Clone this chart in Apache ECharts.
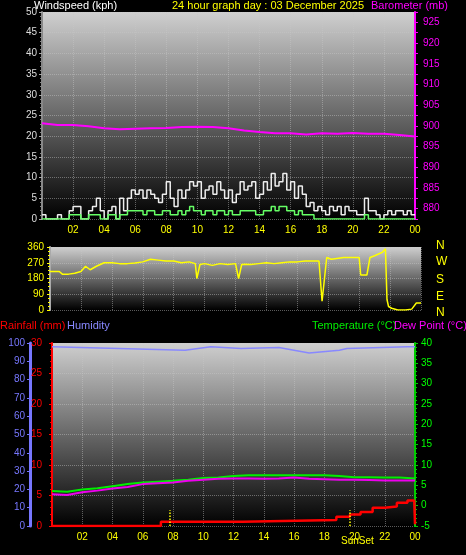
<!DOCTYPE html>
<html>
<head>
<meta charset="utf-8">
<script src="https://cdn.jsdelivr.net/npm/echarts@6/dist/echarts.min.js"></script>
<style>
  html, body { margin: 0; padding: 0; background: #000; }
  #main { width: 466px; height: 555px; }
</style>
</head>
<body>
<div id="main"></div>
<script>
// wind: quarter-hour samples 0..24 (97 values)
var windGust = [1,0,0,0,1,0,0,2,3,
  3,0,0,2,3,5,2,0,  2,3,0,5,2,5,7,6,  7,5,7,6,5,4,6,9,  5,3,7,5,7,9,8,9,
  5,7,8,6,9,7,5,7,  4,6,9,7,8,9,5,6,  9,7,11,8,9,11,7,9,  5,8,6,3,4,2,3,2,
  1,3,2,3,1,3,2,2,  1,1,5,2,2,1,0,1,  2,1,2,2,1,2,1,1];
var windAvg = [0,0,0,0,0,0,0,1,1,
  1,0,0,1,1,1,0,0,  1,1,0,1,1,2,2,2,  2,1,2,2,1,1,2,2,  1,1,2,1,2,3,2,2,
  1,2,2,1,2,2,1,2,  1,1,2,2,2,2,1,1,  2,2,3,2,3,3,2,2,  1,2,1,1,1,0,0,0,
  0,0,0,0,0,0,0,0,  0,0,1,0,0,0,0,0,  0,0,0,0,0,0,0,0];

var hours = [0,1,2,3,4,5,6,7,8,9,10,11,12,13,14,15,16,17,18,19,20,21,22,23,24];
var baro = [900.6,900.2,900.2,899.9,899.4,899.2,899.3,899.4,899.5,899.7,899.8,899.7,899.4,898.9,898.5,898.2,898.2,897.9,898.2,898.1,898.3,898.1,898.1,897.8,897.4];
var temp = [3.6,3.4,4.0,4.3,4.8,5.3,5.7,5.9,6.1,6.4,6.8,6.9,7.3,7.5,7.5,7.5,7.5,7.5,7.5,7.3,7.0,7.0,6.9,6.9,6.7];
var dew  = [2.8,2.6,3.3,3.7,4.2,4.6,5.3,5.5,5.7,6.1,6.4,6.6,6.7,6.7,6.6,6.7,6.9,6.6,6.5,6.4,6.4,6.3,6.2,6.2,6.2];

var dirTimes = [0,0.6,0.8,1.2,1.6,2,2.3,2.6,3,3.5,4,4.5,5,5.5,6,6.5,7,7.5,8,8.5,9,9.4,9.5,9.7,10,10.5,11,11.5,12,12.2,12.4,12.6,13,13.5,14,14.5,15,15.5,16,16.5,17,17.4,17.6,17.7,17.9,18.2,19,19.5,20,20.1,20.5,20.7,21,21.5,21.7,21.8,21.9,22.1,22.5,23,23.4,23.7,24];
var dirDeg   = [220,220,205,205,210,220,250,230,250,270,270,265,265,268,275,290,285,280,280,270,275,265,180,260,265,255,265,260,265,180,260,262,260,265,270,265,270,275,275,280,280,280,50,50,300,290,300,300,300,200,200,300,310,330,350,60,20,10,0,0,5,40,40];

var humTimes = [0,8.8,10.5,12.5,15,17,19,19.5,23.5,24];
var humidity = [98,96,98,97,97.5,94.5,96,97,98,98];

var rainTimes = [0,7.2,12.6,18.8,19.7,20.4,21.2,22,22.8,23.5,23.95,24];
var rain      = [0,0.7,1.0,1.5,1.9,2.3,3.0,3.2,3.8,4.2,4.2,0.3];

var sunTimes = [7.8, 19.7];

function pairs(xs, ys) { return xs.map(function (x, i) { return [x, ys[i]]; }); }
function quarterPairs(ys) { return ys.map(function (y, i) { return [i / 4, y]; }); }

var plotBg = { type: 'linear', x: 0, y: 0, x2: 0, y2: 1,
  colorStops: [{ offset: 0, color: '#cfcfcf' }, { offset: 1, color: '#000' }] };
var font = 'Liberation Sans, Arial, sans-serif';
var split = { show: true, lineStyle: { color: 'rgba(200,200,200,0.45)', type: 'dotted' } };

function hourAxis(gi, showLabels) {
  return {
    type: 'value', gridIndex: gi, min: 0, max: 24, interval: 2,
    axisLine: { show: false }, axisTick: { show: false },
    splitLine: split,
    axisLabel: { show: showLabels, color: '#ffff00', fontSize: 10, fontFamily: font, margin: 6,
      formatter: function (v) { if (v === 0) return ''; v = v % 24; return (v < 10 ? '0' : '') + v; } }
  };
}
function yAx(o) {
  var base = { type: 'value', axisLine: { show: true, lineStyle: { width: 2 } },
    axisTick: { show: true, length: 3 }, minorTick: { show: true, splitNumber: 5, length: 2 },
    splitLine: { show: false },
    axisLabel: { fontSize: 10, fontFamily: font } };
  return Object.assign(base, o);
}

var chart = echarts.init(document.getElementById('main'));
chart.setOption({
  backgroundColor: '#000',
  animation: false,
  grid: [
    { left: 42, top: 12, width: 373, height: 207, show: true, backgroundColor: plotBg, borderWidth: 0 },
    { left: 50, top: 247, width: 371, height: 63, show: true, backgroundColor: plotBg, borderWidth: 0 },
    { left: 52, top: 343, width: 363, height: 183, show: true, backgroundColor: plotBg, borderWidth: 0 }
  ],
  xAxis: [hourAxis(0, true), hourAxis(1, false), hourAxis(2, true)],
  yAxis: [
    yAx({ gridIndex: 0, min: 0, max: 50, interval: 5, splitLine: split,
      axisLine: { show: true, lineStyle: { color: '#888', width: 2 } },
      axisTick: { show: true, length: 3, lineStyle: { color: '#aaa' } },
      axisLabel: { color: '#ddd', fontSize: 10, fontFamily: font, margin: 5 } }),
    yAx({ gridIndex: 0, position: 'right', min: 877.5, max: 927.5, interval: 2.5,
      axisLine: { show: true, lineStyle: { color: '#ff00ff', width: 2 } },
      axisTick: { show: true, length: 3, lineStyle: { color: '#ff00ff' } },
      minorTick: { show: false },
      axisLabel: { color: '#ff00ff', fontSize: 10, fontFamily: font, margin: 8,
        formatter: function (v) { return (v % 5 === 0 && v >= 880) ? v : ''; } } }),
    yAx({ gridIndex: 1, min: 0, max: 360, interval: 90, splitLine: split,
      axisLine: { show: true, lineStyle: { color: '#aaa', width: 2 } },
      axisTick: { show: true, length: 3, lineStyle: { color: '#ffff00' } },
      minorTick: { show: true, splitNumber: 4, length: 2, lineStyle: { color: '#ffff00' } },
      axisLabel: { color: '#ffff00', fontSize: 10, fontFamily: font, margin: 6 } }),
    yAx({ gridIndex: 2, position: 'left', min: 0, max: 30, interval: 5, offset: 5, splitLine: split,
      axisLine: { show: true, lineStyle: { color: '#ff0000', width: 2 } },
      axisTick: { show: true, length: 3, lineStyle: { color: '#ff0000' } },
      minorTick: { show: true, splitNumber: 5, length: 2, lineStyle: { color: '#ff0000' } },
      axisLabel: { color: '#ff0000', fontSize: 10, fontFamily: font, margin: 5 } }),
    yAx({ gridIndex: 2, position: 'left', min: 0, max: 100, interval: 10, offset: 22,
      axisLine: { show: true, lineStyle: { color: '#7777ff', width: 3 } },
      axisTick: { show: true, length: 3, lineStyle: { color: '#7777ff' } },
      minorTick: { show: false },
      axisLabel: { color: '#7777ff', fontSize: 10, fontFamily: font, margin: 5 } }),
    yAx({ gridIndex: 2, position: 'right', min: -5, max: 40, interval: 5,
      axisLine: { show: true, lineStyle: { color: '#00cc00', width: 2 } },
      axisTick: { show: true, length: 3, lineStyle: { color: '#00cc00' } },
      minorTick: { show: true, splitNumber: 5, length: 2, lineStyle: { color: '#00cc00' } },
      axisLabel: { color: '#00ff00', fontSize: 10, fontFamily: font, margin: 6 } })
  ],
  series: [
    { type: 'line', xAxisIndex: 0, yAxisIndex: 0, step: 'end', symbol: 'none',
      data: quarterPairs(windGust), lineStyle: { color: '#eeeeee', width: 1.5 } },
    { type: 'line', xAxisIndex: 0, yAxisIndex: 0, step: 'end', symbol: 'none',
      data: quarterPairs(windAvg), lineStyle: { color: '#66ff66', width: 1.5 } },
    { type: 'line', xAxisIndex: 0, yAxisIndex: 1, symbol: 'none',
      data: pairs(hours, baro), lineStyle: { color: '#ff00ff', width: 2 } },
    { type: 'line', xAxisIndex: 1, yAxisIndex: 2, symbol: 'none',
      data: pairs(dirTimes, dirDeg), lineStyle: { color: '#ffff00', width: 1.5 } },
    { type: 'line', xAxisIndex: 2, yAxisIndex: 4, symbol: 'none',
      data: pairs(humTimes, humidity), lineStyle: { color: '#8888ff', width: 1.5 } },
    { type: 'line', xAxisIndex: 2, yAxisIndex: 5, symbol: 'none',
      data: pairs(hours, temp), lineStyle: { color: '#00ee00', width: 2 } },
    { type: 'line', xAxisIndex: 2, yAxisIndex: 5, symbol: 'none',
      data: pairs(hours, dew), lineStyle: { color: '#ee00ee', width: 2 } },
    { type: 'line', xAxisIndex: 2, yAxisIndex: 3, step: 'end', symbol: 'none',
      data: pairs(rainTimes, rain), lineStyle: { color: '#ff0000', width: 2.5 },
      markLine: { silent: true, symbol: 'none', label: { show: false },
        lineStyle: { color: '#ffff00', type: 'dotted', width: 1.5 },
        data: sunTimes.map(function (t) { return [{ coord: [t, 0] }, { coord: [t, 2.6] }]; }) } }
  ],
  graphic: [
    { type: 'text', left: 34, top: 0, style: { text: 'Windspeed (kph)', fill: '#fff', font: '11px ' + font } },
    { type: 'text', left: 172, top: 0, style: { text: '24 hour graph day : 03 December 2025', fill: '#ffff00', font: '11px ' + font } },
    { type: 'text', left: 371, top: 0, style: { text: 'Barometer (mb)', fill: '#ff00ff', font: '11px ' + font } },
    { type: 'text', left: 436, top: 240, style: { text: 'N', fill: '#ffff00', font: '12px ' + font } },
    { type: 'text', left: 436, top: 256, style: { text: 'W', fill: '#ffff00', font: '12px ' + font } },
    { type: 'text', left: 436, top: 274, style: { text: 'S', fill: '#ffff00', font: '12px ' + font } },
    { type: 'text', left: 436, top: 291, style: { text: 'E', fill: '#ffff00', font: '12px ' + font } },
    { type: 'text', left: 436, top: 307, style: { text: 'N', fill: '#ffff00', font: '12px ' + font } },
    { type: 'text', left: 0, top: 320, style: { text: 'Rainfall (mm)', fill: '#ff0000', font: '11px ' + font } },
    { type: 'text', left: 67, top: 320, style: { text: 'Humidity', fill: '#8888ff', font: '11px ' + font } },
    { type: 'text', left: 312, top: 320, style: { text: 'Temperature (°C)', fill: '#00ee00', font: '11px ' + font } },
    { type: 'text', left: 394, top: 320, style: { text: 'Dew Point (°C)', fill: '#ff00ff', font: '11px ' + font } },
    { type: 'text', left: 341, top: 536, style: { text: 'SunSet', fill: '#ffff00', font: '10px ' + font } }
  ]
});
</script>
</body>
</html>
